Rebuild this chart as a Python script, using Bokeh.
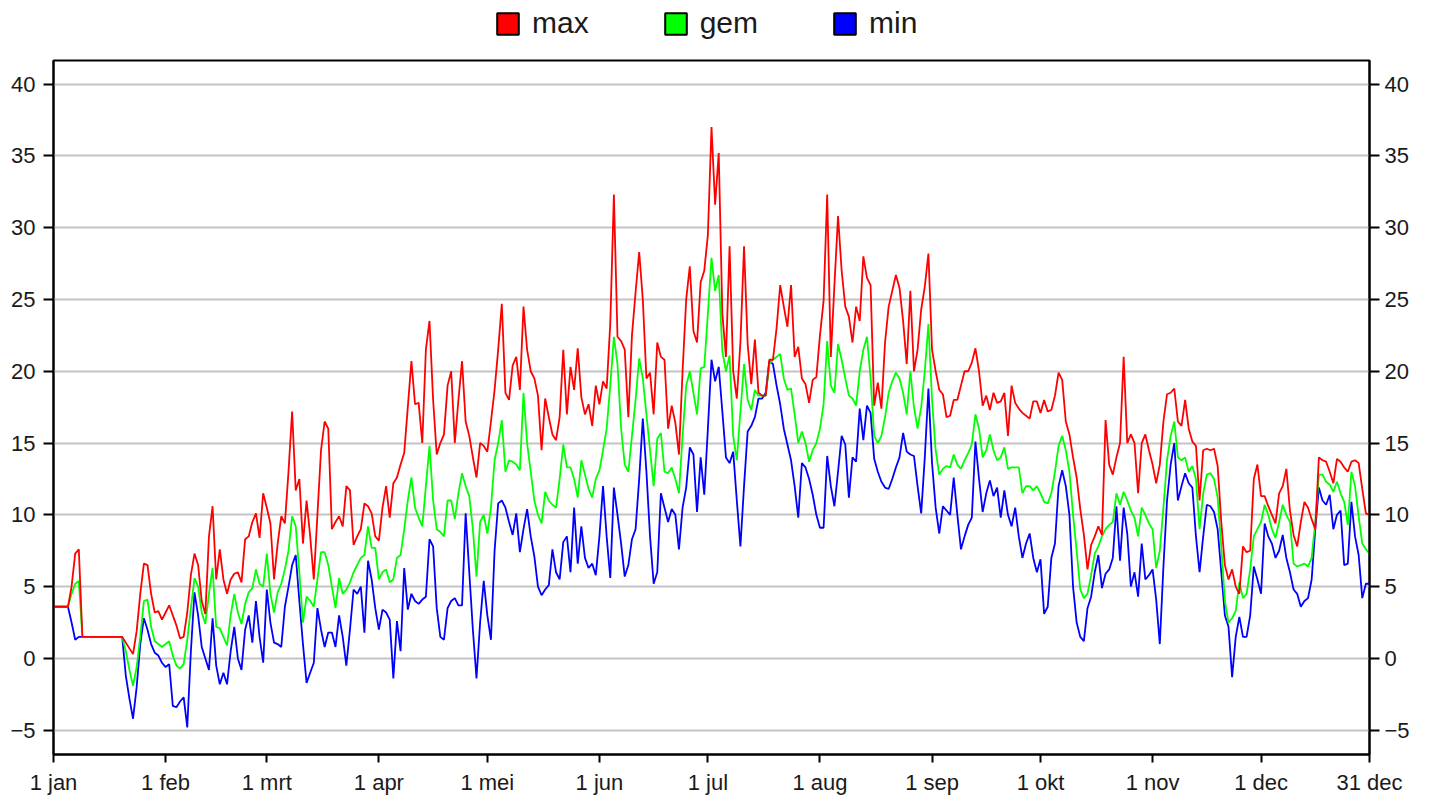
from bokeh.plotting import figure
from bokeh.layouts import column
from bokeh.models import LinearAxis, FixedTicker, Legend, LegendItem, Range1d
from bokeh.embed import file_html
from bokeh.resources import INLINE

month_ticks = [0, 31, 59, 90, 120, 151, 181, 212, 243, 273, 304, 334, 364]
month_labels = ["1 jan", "1 feb", "1 mrt", "1 apr", "1 mei", "1 jun", "1 jul",
                "1 aug", "1 sep", "1 okt", "1 nov", "1 dec", "31 dec"]
y_ticks = [-5, 0, 5, 10, 15, 20, 25, 30, 35, 40]
series_names = ["max", "gem", "min"]

t_max = [
    3.6, 3.6, 3.6, 3.6, 3.6, 5.0, 7.3, 7.6, 1.5, 1.5,
    1.5, 1.5, 1.5, 1.5, 1.5, 1.5, 1.5, 1.5, 1.5, 1.5,
    1.1, 0.7, 0.3, 1.9, 4.5, 6.6, 6.5, 4.5, 3.2, 3.3,
    2.7, 3.2, 3.7, 3.0, 2.3, 1.4, 1.5, 3.2, 5.8, 7.3,
    6.5, 4.0, 3.1, 8.5, 10.6, 5.5, 7.6, 5.5, 4.5, 5.5,
    5.9, 6.0, 5.3, 8.3, 8.5, 9.5, 10.1, 8.4, 11.5, 10.5,
    9.4, 5.5, 8.0, 9.9, 9.4, 13.0, 17.2, 11.7, 12.5, 8.0,
    11.0, 8.5, 5.5, 10.0, 14.5, 16.5, 16.0, 9.0, 9.5, 9.9,
    9.2, 12.0, 11.7, 7.9, 8.5, 9.0, 10.8, 10.6, 10.1, 8.5,
    8.2, 10.5, 12.0, 9.8, 12.2, 12.6, 13.5, 14.3, 17.5, 20.7,
    17.7, 17.8, 15.0, 21.5, 23.5, 18.0, 14.2, 15.0, 15.6, 19.0,
    20.0, 15.0, 18.0, 20.7, 16.5, 15.5, 14.0, 12.6, 15.0, 14.8,
    14.4, 16.5, 18.7, 21.5, 24.7, 18.5, 18.0, 20.4, 21.0, 18.7,
    24.5, 21.5, 20.0, 19.5, 18.3, 14.5, 18.1, 16.8, 15.6, 15.2,
    16.8, 21.5, 17.0, 20.3, 18.7, 21.6, 18.2, 17.0, 17.7, 16.2,
    19.0, 17.7, 19.3, 18.8, 23.3, 32.3, 22.4, 22.1, 21.5, 16.8,
    22.5, 25.5, 28.3, 25.0, 19.5, 19.9, 17.0, 22.0, 21.0, 20.8,
    16.0, 17.6, 16.4, 14.2, 20.0, 25.0, 27.3, 22.8, 22.0, 26.2,
    27.0, 29.5, 37.0, 31.6, 35.2, 24.0, 21.0, 28.7, 20.0, 18.1,
    22.0, 28.7, 21.9, 19.1, 22.2, 18.5, 18.3, 18.3, 20.8, 20.8,
    23.0, 26.0, 24.5, 23.1, 26.0, 21.0, 21.7, 19.5, 19.1, 17.8,
    19.4, 19.6, 22.5, 24.9, 32.3, 21.0, 26.0, 30.8, 27.0, 24.5,
    23.8, 22.0, 24.5, 23.5, 28.0, 26.5, 26.0, 17.6, 19.2, 17.4,
    22.0, 24.5, 25.6, 26.7, 25.8, 23.5, 20.5, 25.6, 20.0, 21.5,
    24.3, 25.9, 28.2, 21.5, 20.0, 18.7, 18.4, 16.8, 16.9, 18.0,
    18.0, 19.0, 20.0, 20.0, 20.6, 21.6, 20.0, 17.6, 18.3, 17.3,
    18.5, 17.8, 17.9, 18.5, 15.5, 19.0, 17.8, 17.4, 17.1, 16.9,
    16.7, 17.9, 17.9, 17.1, 18.0, 17.2, 17.3, 18.3, 19.9, 19.4,
    16.5, 15.6, 14.0, 12.6, 10.4, 8.6, 6.2, 7.9, 8.5, 9.2,
    8.6, 16.6, 13.5, 12.8, 14.0, 15.0, 21.0, 15.0, 15.6, 15.0,
    11.5, 15.0, 15.6, 14.5, 13.5, 12.2, 13.5, 16.5, 18.4, 18.5,
    18.8, 16.5, 16.2, 18.0, 16.0, 15.1, 14.8, 11.0, 14.5, 14.6,
    14.5, 14.6, 13.4, 9.5, 6.5, 5.5, 6.2, 5.0, 4.5, 7.8,
    7.4, 7.5, 12.5, 13.5, 11.3, 11.3, 10.6, 10.0, 9.4, 11.5,
    12.0, 13.2, 10.3, 8.6, 7.8, 9.5, 10.9, 10.5, 9.7, 9.0,
    14.0, 13.8, 13.7, 13.0, 12.2, 13.9, 13.7, 13.3, 13.0, 13.7,
    13.8, 13.6, 11.8, 10.1, 10.0,
]

t_gem = [
    3.6, 3.6, 3.6, 3.6, 3.6, 4.5, 5.2, 5.4, 1.5, 1.5,
    1.5, 1.5, 1.5, 1.5, 1.5, 1.5, 1.5, 1.5, 1.5, 1.5,
    0.5, -0.8, -1.9, -0.6, 1.5, 4.0, 4.1, 2.2, 1.2, 1.0,
    0.8, 1.0, 1.2, 0.2, -0.5, -0.7, -0.4, 1.3, 3.5, 5.6,
    5.0, 3.2, 2.4, 4.5, 6.3, 2.2, 2.1, 1.5, 0.9, 3.0,
    4.5, 3.2, 2.4, 3.8, 4.6, 4.9, 6.2, 5.2, 5.0, 7.3,
    4.5, 3.2, 4.6, 5.2, 6.2, 7.5, 9.9, 9.2, 6.0, 2.5,
    4.3, 4.0, 3.6, 5.5, 7.4, 7.4, 6.5, 5.0, 3.5, 5.6,
    4.5, 4.8, 5.3, 6.0, 6.5, 7.0, 7.2, 9.2, 7.7, 7.7,
    5.5, 6.0, 6.2, 5.3, 5.5, 7.0, 7.2, 9.0, 11.0, 12.6,
    10.5, 9.8, 9.2, 12.0, 14.8, 11.0, 9.0, 8.8, 8.5, 11.0,
    11.0, 9.7, 11.5, 12.9, 12.0, 11.3, 9.0, 5.7, 9.5, 10.0,
    8.7, 10.5, 13.8, 15.0, 16.6, 13.0, 13.8, 13.7, 13.5, 13.1,
    18.5, 15.0, 13.0, 11.0, 10.0, 9.4, 11.6, 11.0, 10.7, 10.5,
    12.5, 14.9, 13.3, 13.3, 12.5, 11.2, 13.8, 12.8, 11.8, 11.2,
    12.5, 13.1, 14.5, 16.0, 19.0, 22.4, 20.5, 16.0, 13.5, 13.0,
    15.5, 18.0, 20.9, 19.5, 17.0, 14.5, 12.0, 15.3, 15.7, 13.0,
    12.9, 13.3, 12.5, 11.5, 15.5, 19.0, 20.0, 18.5, 17.0, 20.2,
    20.3, 24.0, 27.9, 25.6, 26.7, 21.4, 20.0, 21.1, 15.5, 13.8,
    17.2, 20.5, 18.0, 17.3, 18.7, 18.3, 18.3, 18.3, 20.5, 20.8,
    21.0, 21.2, 19.5, 18.7, 18.8, 17.0, 15.0, 15.8, 15.0, 13.7,
    14.5, 15.0, 16.0, 17.7, 22.1, 19.0, 18.5, 21.9, 20.8, 19.5,
    18.3, 18.1, 17.6, 20.0, 21.5, 22.4, 19.5, 15.5, 15.0, 15.5,
    16.8, 18.5, 19.3, 19.9, 19.5, 18.5, 17.0, 20.0, 17.5, 16.0,
    17.5, 20.0, 23.3, 18.0, 14.5, 12.8, 13.2, 13.4, 13.3, 14.2,
    13.5, 13.2, 13.8, 14.3, 14.9, 17.0, 16.0, 14.0, 14.5, 15.6,
    14.5, 13.8, 14.0, 14.7, 13.2, 13.3, 13.3, 13.3, 11.5, 12.0,
    12.0, 11.7, 12.0, 11.5, 10.9, 10.8, 11.5, 13.0, 14.8, 15.5,
    14.5, 13.0, 10.0, 7.5, 4.8, 4.2, 4.5, 5.8, 7.3, 7.8,
    8.5, 9.0, 9.3, 9.5, 11.5, 10.7, 11.6, 11.0, 10.3, 9.8,
    8.5, 10.5, 10.0, 9.4, 9.0, 6.3, 7.5, 10.5, 13.8, 15.5,
    16.5, 14.0, 13.8, 14.0, 13.0, 13.4, 12.5, 9.0, 11.5, 12.8,
    12.9, 12.5, 11.2, 7.8, 4.0, 2.5, 2.8, 3.3, 5.3, 4.2,
    4.5, 6.2, 8.5, 9.0, 9.5, 10.7, 10.0, 9.0, 8.4, 9.5,
    10.7, 10.0, 9.5, 6.6, 6.4, 6.5, 6.6, 6.4, 7.0, 9.5,
    12.8, 12.8, 12.3, 12.1, 11.6, 12.3, 11.5, 10.9, 9.3, 13.0,
    12.0, 9.9, 8.0, 7.6, 7.3,
]

t_min = [
    3.6, 3.6, 3.6, 3.6, 3.6, 2.5, 1.3, 1.5, 1.5, 1.5,
    1.5, 1.5, 1.5, 1.5, 1.5, 1.5, 1.5, 1.5, 1.5, 1.5,
    -1.2, -2.8, -4.2, -2.0, 1.0, 2.8, 2.0, 1.0, 0.4, 0.2,
    -0.3, -0.6, -0.4, -3.3, -3.4, -3.0, -2.7, -4.8, 0.5, 4.6,
    3.0, 0.8, 0.0, -0.8, 2.8, -0.5, -1.8, -1.0, -1.8, 0.5,
    2.2, 0.0, -0.8, 2.0, 3.0, 1.1, 4.0, 1.5, -0.3, 4.8,
    2.5, 1.1, 1.0, 0.8, 3.6, 5.0, 6.5, 7.2, 4.0, 1.0,
    -1.7, -1.0, -0.3, 3.5, 2.0, 0.8, 1.8, 1.8, 0.8, 3.0,
    1.5, -0.5, 2.0, 4.8, 4.5, 5.0, 1.8, 6.8, 5.5, 3.5,
    2.0, 3.4, 3.2, 2.7, -1.4, 2.6, 0.5, 6.3, 3.4, 4.5,
    4.0, 3.8, 4.1, 4.3, 8.3, 7.8, 3.5, 1.5, 1.3, 3.5,
    4.0, 4.2, 3.7, 3.7, 10.1, 6.0, 2.0, -1.4, 2.5, 5.4,
    3.0, 1.3, 7.5, 10.8, 11.0, 10.5, 9.5, 8.6, 10.1, 7.4,
    9.0, 10.4, 8.5, 7.1, 5.0, 4.4, 4.8, 5.1, 7.6, 6.0,
    5.5, 8.1, 8.5, 6.0, 10.5, 6.6, 9.2, 7.0, 6.3, 6.6,
    5.8, 8.5, 12.0, 8.5, 5.6, 11.9, 10.0, 8.0, 5.7, 6.5,
    8.3, 9.0, 12.5, 16.7, 13.0, 8.5, 5.2, 6.0, 11.5, 10.5,
    9.5, 10.4, 10.0, 7.6, 10.5, 11.9, 14.7, 14.2, 10.2, 14.0,
    11.4, 16.0, 20.8, 19.3, 20.3, 17.2, 14.0, 13.6, 14.4, 11.0,
    7.8, 12.0, 15.8, 16.2, 16.8, 18.1, 18.1, 18.5, 20.7, 20.5,
    19.0, 17.7, 16.0, 14.9, 13.8, 12.0, 9.8, 13.6, 13.3, 12.5,
    11.4, 10.0, 9.1, 9.1, 14.1, 12.0, 10.6, 13.0, 15.5, 14.9,
    11.2, 14.0, 13.7, 17.4, 15.2, 17.6, 17.1, 13.9, 13.0, 12.3,
    11.9, 11.8, 12.5, 13.3, 14.0, 15.7, 14.4, 14.2, 14.1, 12.0,
    10.1, 14.0, 18.8, 13.6, 10.5, 8.7, 10.6, 10.3, 10.0, 12.6,
    10.0, 7.6, 8.5, 9.3, 9.8, 15.1, 12.5, 10.2, 11.5, 12.4,
    11.3, 11.9, 9.8, 11.7, 10.0, 9.2, 10.5, 8.5, 7.0, 8.0,
    8.7, 7.0, 6.0, 6.9, 3.1, 3.6, 7.0, 8.0, 12.0, 13.1,
    12.0, 10.0, 5.0, 2.5, 1.5, 1.2, 3.5, 4.3, 6.0, 7.2,
    4.9, 5.9, 6.2, 7.0, 10.6, 6.8, 10.5, 8.7, 5.0, 6.0,
    4.3, 8.0, 5.5, 5.8, 6.2, 4.1, 1.0, 6.4, 11.0, 13.5,
    15.0, 11.0, 12.0, 12.9, 12.2, 11.9, 8.5, 6.0, 8.5, 10.7,
    10.6, 10.2, 9.0, 6.0, 3.0, 2.2, -1.3, 1.5, 2.9, 1.5,
    1.5, 3.0, 6.4, 5.5, 4.5, 9.4, 8.5, 8.0, 7.0, 7.5,
    8.6, 7.0, 6.0, 4.8, 4.5, 3.6, 4.0, 4.2, 5.5, 9.0,
    11.9, 11.0, 10.7, 11.4, 9.0, 10.0, 10.3, 6.5, 6.6, 10.9,
    8.5, 7.2, 4.2, 5.2, 5.2,
]

colors = ["#ff0000", "#00ff00", "#0000ff"]
days = list(range(len(t_max)))
NAN = float("nan")

FONT = "Liberation Sans"

# ---------- main chart ----------
p = figure(width=1432, height=745, output_backend="svg", toolbar_location=None,
           x_range=Range1d(0, 364), y_range=Range1d(-6.69, 41.64),
           min_border_left=53, min_border_right=63, min_border_top=4,
           min_border_bottom=47)
p.background_fill_color = "white"
p.border_fill_color = "white"
p.outline_line_color = "black"
p.outline_line_width = 2

p.xgrid.visible = False
p.ygrid.ticker = FixedTicker(ticks=y_ticks)
p.ygrid.grid_line_color = "#c4c4c4"
p.ygrid.grid_line_width = 2

def style_axis(ax):
    ax.axis_line_color = "black"
    ax.axis_line_width = 2
    ax.major_tick_line_color = "black"
    ax.major_tick_line_width = 2
    ax.minor_tick_line_color = None
    ax.major_tick_in = 0
    ax.major_label_text_font = FONT
    ax.major_label_text_font_size = "22px"
    ax.major_label_text_color = "#1a1a1a"

xa = p.xaxis[0]
xa.ticker = FixedTicker(ticks=month_ticks)
xa.major_label_overrides = {t: l for t, l in zip(month_ticks, month_labels)}
style_axis(xa)
xa.major_tick_out = 8
xa.major_label_standoff = 7

ya = p.yaxis[0]
ya.ticker = FixedTicker(ticks=y_ticks)
style_axis(ya)
ya.major_tick_out = 10
ya.major_label_standoff = 8

yr = LinearAxis(ticker=FixedTicker(ticks=y_ticks))
style_axis(yr)
yr.major_tick_out = 10
yr.major_label_standoff = 5
p.add_layout(yr, "right")

series = [t_max, t_gem, t_min]
for vals, col in zip(series[::-1], colors[::-1]):
    p.line(days, vals, line_color=col, line_width=1.8)

# ---------- legend strip ----------
lg = figure(width=1432, height=56, output_backend="svg", toolbar_location=None,
            x_range=Range1d(0, 1), y_range=Range1d(0, 1),
            x_axis_location=None, y_axis_location=None,
            min_border_left=0, min_border_right=0, min_border_top=0,
            min_border_bottom=0)
lg.grid.visible = False
lg.outline_line_color = None
lg.background_fill_color = "white"
lg.border_fill_color = "white"

items = []
for name, col in zip(series_names, colors):
    r = lg.quad(left=[NAN], right=[NAN], top=[NAN], bottom=[NAN], fill_color=col,
                line_color="black", line_width=2)
    items.append(LegendItem(label=name, renderers=[r]))

legend = Legend(items=items, orientation="horizontal", location=(441, 16),
                glyph_width=27, glyph_height=27, label_standoff=11, spacing=73,
                padding=0, margin=0, border_line_alpha=0, background_fill_alpha=0,
                label_text_font=FONT, label_text_font_size="30px",
                label_text_color="#1a1a1a")
lg.add_layout(legend, "center")

layout = column(lg, p, spacing=0)
open("out.html", "w").write(file_html(layout, INLINE))
